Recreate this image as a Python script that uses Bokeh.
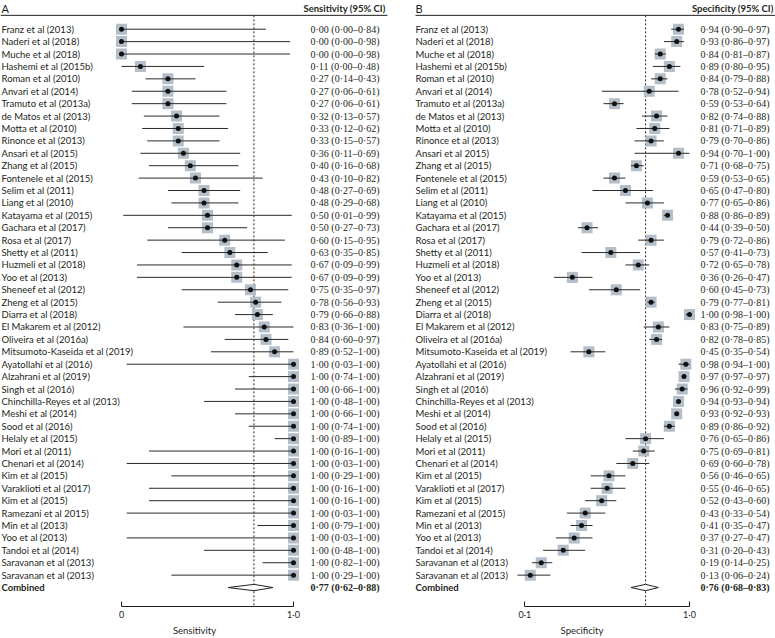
from bokeh.plotting import figure
from bokeh.models import Range1d, FixedTicker, ColumnDataSource
from bokeh.layouts import row
from bokeh.embed import file_html
from bokeh.resources import INLINE
from bokeh.core.properties import value

# ---------------- data ----------------
studies_a = [
    "Franz et al (2013)", "Naderi et al (2018)", "Muche et al (2018)", "Hashemi et al (2015b)",
    "Roman et al (2010)", "Anvari et al (2014)", "Tramuto et al (2013a)", "de Matos et al (2013)",
    "Motta et al (2010)", "Rinonce et al (2013)", "Ansari et al (2015)", "Zhang et al (2015)",
    "Fontenele et al (2015)", "Selim et al (2011)", "Liang et al (2010)", "Katayama et al (2015)",
    "Gachara et al (2017)", "Rosa et al (2017)", "Shetty et al (2011)", "Huzmeli et al (2018)",
    "Yoo et al (2013)", "Sheneef et al (2012)", "Zheng et al (2015)", "Diarra et al (2018)",
    "El Makarem et al (2012)", "Oliveira et al (2016a)", "Mitsumoto-Kaseida et al (2019)",
    "Ayatollahi et al (2016)", "Alzahrani et al (2019)", "Singh et al (2016)",
    "Chinchilla-Reyes et al (2013)", "Meshi et al (2014)", "Sood et al (2016)", "Helaly et al (2015)",
    "Mori et al (2011)", "Chenari et al (2014)", "Kim et al (2015)", "Varaklioti et al (2017)",
    "Kim et al (2015)", "Ramezani et al 2015)", "Min et al (2013)", "Yoo et al (2013)",
    "Tandoi et al (2014)", "Saravanan et al (2013)", "Saravanan et al (2013)",
]
sens_est = [0.00, 0.00, 0.00, 0.11, 0.27, 0.27, 0.27, 0.32, 0.33, 0.33, 0.36, 0.40, 0.43, 0.48, 0.48,
            0.50, 0.50, 0.60, 0.63, 0.67, 0.67, 0.75, 0.78, 0.79, 0.83, 0.84, 0.89, 1.00, 1.00, 1.00,
            1.00, 1.00, 1.00, 1.00, 1.00, 1.00, 1.00, 1.00, 1.00, 1.00, 1.00, 1.00, 1.00, 1.00, 1.00]
sens_lo = [0.00, 0.00, 0.00, 0.00, 0.14, 0.06, 0.06, 0.13, 0.12, 0.15, 0.11, 0.16, 0.10, 0.27, 0.29,
           0.01, 0.27, 0.15, 0.35, 0.09, 0.09, 0.35, 0.56, 0.66, 0.36, 0.60, 0.52, 0.03, 0.74, 0.66,
           0.48, 0.66, 0.74, 0.89, 0.16, 0.03, 0.29, 0.16, 0.16, 0.03, 0.79, 0.03, 0.48, 0.82, 0.29]
sens_hi = [0.84, 0.98, 0.98, 0.48, 0.43, 0.61, 0.61, 0.57, 0.62, 0.57, 0.69, 0.68, 0.82, 0.69, 0.68,
           0.99, 0.73, 0.95, 0.85, 0.99, 0.99, 0.97, 0.93, 0.88, 1.00, 0.97, 1.00, 1.00, 1.00, 1.00,
           1.00, 1.00, 1.00, 1.00, 1.00, 1.00, 1.00, 1.00, 1.00, 1.00, 1.00, 1.00, 1.00, 1.00, 1.00]
combined_sens = [0.77, 0.62, 0.88]

studies_b = list(studies_a)
studies_b[10] = "Ansari et al 2015)"
studies_b[39] = "Ramezani et al (2015)"
spec_est = [0.94, 0.93, 0.84, 0.89, 0.84, 0.78, 0.59, 0.82, 0.81, 0.79, 0.94, 0.71, 0.59, 0.65, 0.77,
            0.88, 0.44, 0.79, 0.57, 0.72, 0.36, 0.60, 0.79, 1.00, 0.83, 0.82, 0.45, 0.98, 0.97, 0.96,
            0.94, 0.93, 0.89, 0.76, 0.75, 0.69, 0.56, 0.55, 0.52, 0.43, 0.41, 0.37, 0.31, 0.19, 0.13]
spec_lo = [0.90, 0.86, 0.81, 0.80, 0.79, 0.52, 0.53, 0.74, 0.71, 0.70, 0.70, 0.68, 0.53, 0.47, 0.65,
           0.86, 0.39, 0.72, 0.41, 0.65, 0.26, 0.45, 0.77, 0.98, 0.75, 0.78, 0.35, 0.94, 0.97, 0.92,
           0.93, 0.92, 0.86, 0.65, 0.69, 0.60, 0.46, 0.46, 0.43, 0.33, 0.35, 0.27, 0.20, 0.14, 0.06]
spec_hi = [0.97, 0.97, 0.87, 0.95, 0.88, 0.94, 0.64, 0.88, 0.89, 0.86, 1.00, 0.75, 0.65, 0.80, 0.86,
           0.89, 0.50, 0.86, 0.73, 0.78, 0.47, 0.73, 0.81, 1.00, 0.89, 0.85, 0.54, 1.00, 0.97, 0.99,
           0.94, 0.93, 0.92, 0.86, 0.81, 0.78, 0.65, 0.65, 0.60, 0.54, 0.47, 0.47, 0.43, 0.25, 0.24]
combined_spec = [0.76, 0.68, 0.83]

sens_ticks = [0.0, 1.0]
sens_tick_labels = ["0", "1·0"]
spec_ticks = [0.1, 1.0]
spec_tick_labels = ["0·1", "1·0"]

# ---------------- styling ----------------
FONT = "Lato"
NUM_FONT = "Liberation Sans Narrow"
FS = "9.5px"
NFS = "10px"
TXT = "#231f20"
SQ = "#b3bec9"
H = 638
ROW_PX = 12.53
BOTTOM = 26
FRAME_H = H - BOTTOM
Y_TOP = 1 - 29 / ROW_PX
Y_BOT = Y_TOP + FRAME_H / ROW_PX


def fmt(v):
    return f"{v:.2f}".replace(".", "·")


def panel(names, est, lo, hi, comb, letter, header, xlabel, width, zero_px, ppu,
          names_px, values_px, header_px, rule0_px, rule1_px, ticks, tick_labels, bounds):
    def dx(px):
        return (px - zero_px) / ppu

    def dy(py):
        return Y_TOP + py / ROW_PX

    p = figure(width=width, height=H, output_backend="svg", toolbar_location=None,
               x_range=Range1d(dx(0), dx(width)), y_range=Range1d(Y_BOT, Y_TOP),
               y_axis_location=None, min_border_left=0, min_border_right=0,
               min_border_top=0, min_border_bottom=BOTTOM, outline_line_color=None,
               background_fill_color="white", border_fill_color="white")
    p.xgrid.visible = False
    p.ygrid.visible = False

    n = len(names)
    rows = list(range(1, n + 1))
    crow = n + 1
    src = ColumnDataSource(dict(
        y=rows, est=est, lo=lo, hi=hi, name=names,
        lab=[f"{fmt(e)} ({fmt(a)}–{fmt(b)})" for e, a, b in zip(est, lo, hi)],
    ))

    # header
    p.text(x=[dx(names_px)], y=[dy(8)], text=[letter], text_font=value(FONT),
           text_font_size="11px", text_baseline="middle", text_align="left", text_color=TXT)
    p.text(x=[dx(header_px)], y=[dy(8)], text=[header], text_font=value(FONT),
           text_font_size=FS, text_font_style="bold", text_baseline="middle",
           text_align="right", text_color=TXT)
    p.segment(x0=[dx(rule0_px)], y0=[dy(15)], x1=[dx(rule1_px)], y1=[dy(15)],
              line_color="#231f20", line_width=1)

    # reference line at pooled estimate
    p.segment(x0=[comb[0]], y0=[dy(15)], x1=[comb[0]], y1=[Y_BOT], line_color="#231f20",
              line_width=1, line_dash="2 2")

    # study markers
    p.scatter(x="est", y="y", source=src, marker="square", size=11, fill_color=SQ,
              line_color=None)
    p.segment(x0="lo", y0="y", x1="hi", y1="y", source=src, line_color="#2a2a2a", line_width=1)
    p.scatter(x="est", y="y", source=src, marker="circle", size=5, fill_color="#111111",
              line_color=None)

    # pooled diamond
    hh = 3.2 / ROW_PX
    p.patch(x=[comb[1], comb[0], comb[2], comb[0]], y=[crow, crow - hh, crow, crow + hh],
            fill_color="white", line_color="#231f20", line_width=1)

    # text columns
    p.text(x=dx(names_px), y="y", text="name", source=src, text_font=value(FONT),
           text_font_size=FS, text_baseline="middle", text_align="left", text_color=TXT)
    p.text(x=dx(values_px), y="y", text="lab", source=src, text_font=value(NUM_FONT),
           text_font_size=NFS, text_baseline="middle", text_align="left", text_color=TXT)
    p.text(x=[dx(names_px)], y=[crow], text=["Combined"], text_font=value(FONT),
           text_font_size=FS, text_font_style="bold", text_baseline="middle",
           text_align="left", text_color=TXT)
    p.text(x=[dx(values_px)], y=[crow], text=[f"{fmt(comb[0])} ({fmt(comb[1])}–{fmt(comb[2])})"],
           text_font=value(NUM_FONT), text_font_size=NFS, text_font_style="bold",
           text_baseline="middle", text_align="left", text_color=TXT)

    ax = p.xaxis[0]
    ax.ticker = FixedTicker(ticks=ticks)
    ax.major_label_overrides = {t: l for t, l in zip(ticks, tick_labels)}
    ax.bounds = bounds
    ax.axis_label = xlabel
    ax.axis_label_text_font = FONT
    ax.axis_label_text_font_size = "9.5px"
    ax.axis_label_text_font_style = "normal"
    ax.axis_label_text_color = TXT
    ax.axis_label_standoff = 2
    ax.major_label_text_font = FONT
    ax.major_label_text_font_size = "9px"
    ax.major_label_text_color = TXT
    ax.major_label_standoff = 2
    ax.major_tick_in = 5
    ax.major_tick_out = 0
    ax.minor_tick_line_color = None
    ax.axis_line_color = "#231f20"
    ax.major_tick_line_color = "#231f20"
    return p


pa = panel(studies_a, sens_est, sens_lo, sens_hi, combined_sens, "A", "Sensitivity (95% CI)",
           "Sensitivity", 388, 121, 172, 1, 310, 385, 0, 387,
           sens_ticks, sens_tick_labels, (0.0, 1.0))
pb = panel(studies_b, spec_est, spec_lo, spec_hi, combined_spec, "B", "Specificity (95% CI)",
           "Specificity", 387, 118, 183, 27, 312, 385, 27, 387,
           spec_ticks, spec_tick_labels, (0.1, 1.0))

layout = row(pa, pb)
open("out.html", "w").write(file_html(layout, INLINE))
